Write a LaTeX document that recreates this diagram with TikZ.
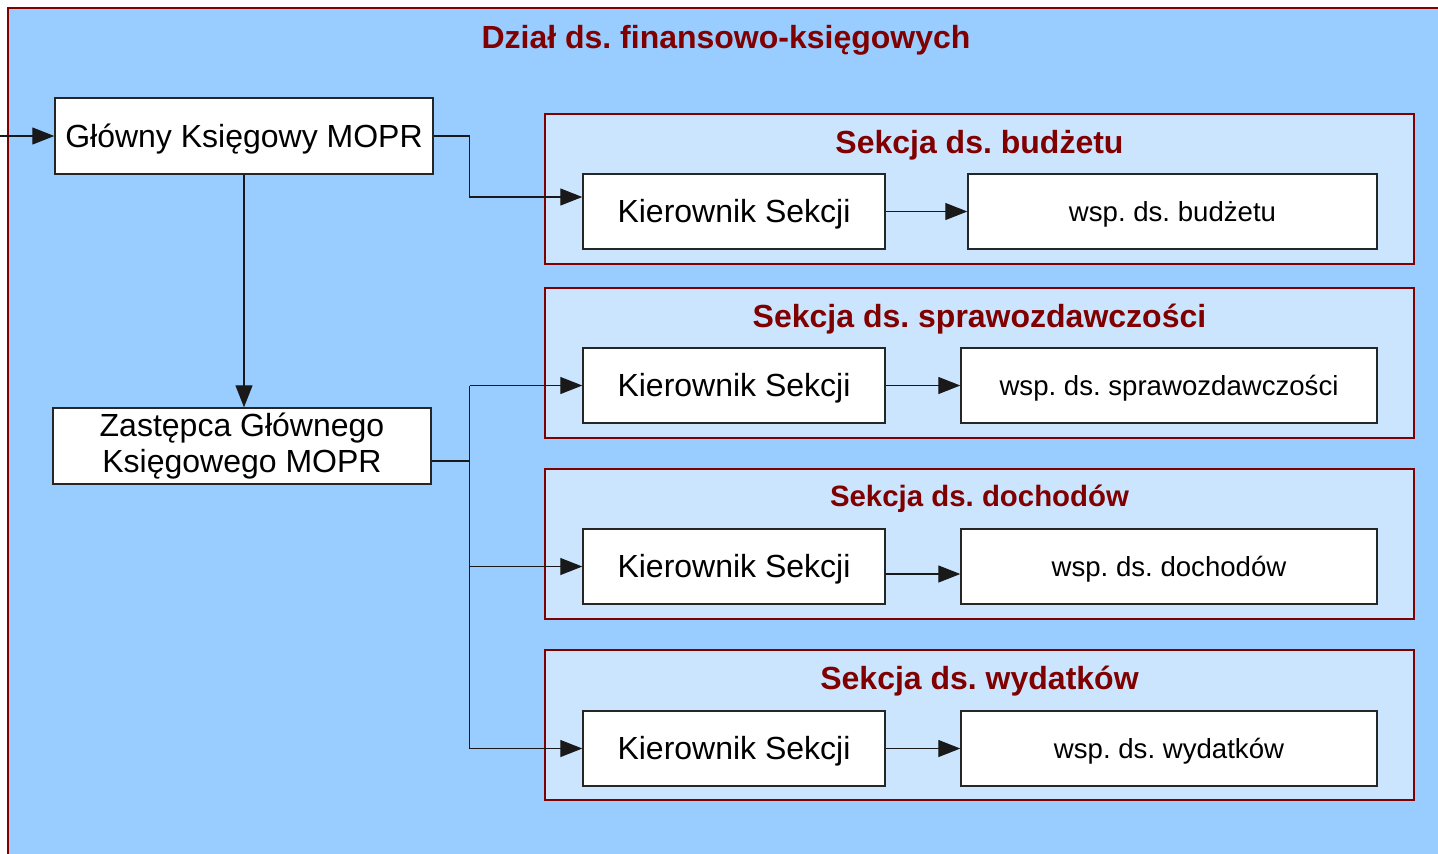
\documentclass[tikz,border=0pt]{standalone}
\usepackage{fontspec}
\setmainfont{Liberation Sans}
\usetikzlibrary{arrows.meta}
\definecolor{ciemnyczerwony}{HTML}{800000}
\definecolor{tlodzialu}{HTML}{99CCFF}
\definecolor{tlosekcji}{HTML}{CCE5FF}
\frenchspacing

\begin{document}
\begin{tikzpicture}[x=0.5pt, y=-0.5pt]
\tikzset{kratka/.style={draw=black!85, fill=white, line width=0.7pt, inner sep=0pt, minimum height=37.5pt, font=\fontsize{16}{18}\selectfont},
  kier/.style={kratka, minimum width=151pt, text height=14.5pt, text depth=3.4pt},
  wsp/.style={kratka, minimum width=208pt, text height=12.5pt, text depth=2.9pt, font=\fontsize{13.8}{16}\selectfont},
  sekcja/.style={draw=ciemnyczerwony, fill=tlosekcji, line width=0.75pt, minimum width=434.5pt, minimum height=75pt, inner sep=0pt},
  naglowek/.style={text=ciemnyczerwony, font=\bfseries\fontsize{16}{19}\selectfont},
  strz/.style={draw=black!90, line width=0.6pt, -{Triangle[length=11pt, width=8.5pt]}}}
\useasboundingbox (0,0) rectangle (1438,853);
\clip (0,0) rectangle (1438,853);
\draw[draw=ciemnyczerwony, fill=tlodzialu, line width=0.75pt] (8,8) rectangle (1460,880);
\node[naglowek] (tytul) at (726,40) {Dział ds. finansowo-księgowych};
% kierownictwo dzialu
\node[kratka, minimum width=189pt, minimum height=38pt, text height=14.5pt, text depth=3.4pt] (glowny) at (244,136) {Główny Księgowy MOPR};
\node[kratka, minimum width=189pt, minimum height=38pt, align=center] (zastepca) at (242,446) {Zastępca Głównego\\Księgowego MOPR};
\coordinate (wejscie) at (0,136);
% sekcje
\node[sekcja] (sek1) at (979.5,189) {};
\node[sekcja] (sek2) at (979.5,363) {};
\node[sekcja] (sek3) at (979.5,544) {};
\node[sekcja] (sek4) at (979.5,725) {};
\node[naglowek] (nag1) at ([yshift=-16pt]sek1.north) {Sekcja ds. budżetu};
\node[naglowek] (nag2) at ([yshift=-16pt]sek2.north) {Sekcja ds. sprawozdawczości};
\node[naglowek, font=\bfseries\fontsize{14.7}{18}\selectfont] (nag3) at ([yshift=-15.5pt]sek3.north) {Sekcja ds. dochodów};
\node[naglowek] (nag4) at ([yshift=-16pt]sek4.north) {Sekcja ds. wydatków};
\node[kier] (kier1) at (734,211.5) {Kierownik Sekcji};
\node[kier] (kier2) at (734,385.5) {Kierownik Sekcji};
\node[kier] (kier3) at (734,566.5) {Kierownik Sekcji};
\node[kier] (kier4) at (734,748.5) {Kierownik Sekcji};
\node[wsp, minimum width=204.5pt] (wsp1) at (1172.5,211.5) {wsp. ds. budżetu};
\node[wsp] (wsp2) at (1169,385.5) {wsp. ds. sprawozdawczości};
\node[wsp] (wsp3) at (1169,566.5) {wsp. ds. dochodów};
\node[wsp] (wsp4) at (1169,748.5) {wsp. ds. wydatków};
% polaczenia
\draw[strz] (wejscie) -- (glowny);
\draw[strz] (glowny.south) -- (glowny.south |- zastepca.north);
\draw[strz] (glowny.east) -- ++(36,0) |- ([yshift=7.25pt]kier1.west);
\draw[draw=black!90, line width=0.6pt] ([yshift=-7.5pt]zastepca.east) -- ++(38,0) coordinate (rozgalezienie);
\draw[draw=black!90, line width=0.6pt] (rozgalezienie |- kier2) -- (rozgalezienie |- kier4);
\draw[strz] (rozgalezienie |- kier2) -- (kier2);
\draw[strz] (rozgalezienie |- kier3) -- (kier3);
\draw[strz] (rozgalezienie |- kier4) -- (kier4);
\draw[strz] (kier1) -- (wsp1);
\draw[strz] (kier2) -- (wsp2);
\draw[strz] ([yshift=-3.75pt]kier3.east) -- ([yshift=-3.75pt]wsp3.west);
\draw[strz] (kier4) -- (wsp4);
\end{tikzpicture}
\end{document}
